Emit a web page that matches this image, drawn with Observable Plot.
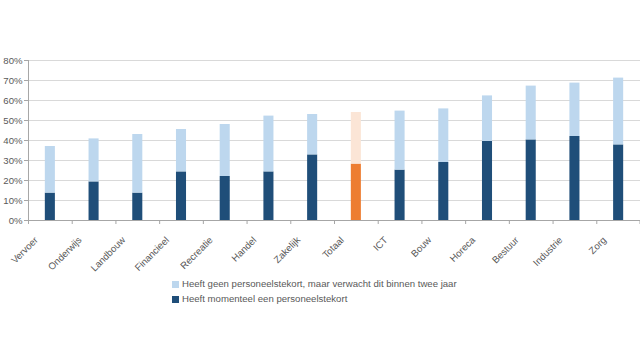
<!DOCTYPE html>
<html>
<head>
<meta charset="utf-8">
<script src="https://cdn.jsdelivr.net/npm/d3@7"></script>
<script src="https://cdn.jsdelivr.net/npm/@observablehq/plot@0.6"></script>
<style>
  body { margin: 0; background: #fff; font-family: "Liberation Sans", Arial, sans-serif; }
  #wrap { position: relative; width: 640px; height: 360px; }
  #chart { position: absolute; left: 0; top: 0; }
  #legend { position: absolute; left: 172px; top: 276px; font-size: 9.6px; color: #595959; line-height: 15px; }
  #legend .sw { display: inline-block; width: 7px; height: 7px; margin-right: 3px; vertical-align: -0.5px; }
</style>
</head>
<body>
<div id="wrap">
  <div id="chart"></div>
  <div id="legend"></div>
</div>
<script>
const categories = ["Vervoer","Onderwijs","Landbouw","Financieel","Recreatie","Handel","Zakelijk","Totaal","ICT","Bouw","Horeca","Bestuur","Industrie","Zorg"];
const momenteel = [13.7, 19.3, 13.7, 24.3, 22.0, 24.3, 32.8, 28.2, 25.2, 29.0, 39.5, 40.3, 42.0, 37.8];
const verwacht  = [23.3, 21.5, 29.3, 21.2, 26.0, 27.9, 20.2, 25.8, 29.5, 26.8, 22.8, 26.9, 26.7, 33.4];
const seriesNames = ["Heeft momenteel een personeelstekort", "Heeft geen personeelstekort, maar verwacht dit binnen twee jaar"];
const yTicks = [0, 10, 20, 30, 40, 50, 60, 70, 80];
const colors = {dark: "#1f4e79", light: "#bdd7ee", orange: "#ed7d31", lightOrange: "#fbe5d6"};
const highlight = "Totaal";

const rows = [];
categories.forEach((c, i) => rows.push({cat: c, series: seriesNames[0], value: momenteel[i],
  color: c === highlight ? colors.orange : colors.dark}));
categories.forEach((c, i) => rows.push({cat: c, series: seriesNames[1], value: verwacht[i],
  color: c === highlight ? colors.lightOrange : colors.light}));

const W = 640, mL = 28, mR = 0;
const step = (W - mL - mR) / categories.length;

const chart = Plot.plot({
  width: W,
  height: 290,
  marginLeft: mL,
  marginRight: mR,
  marginTop: 60,
  marginBottom: 70,
  style: {fontFamily: "'Liberation Sans', Arial, sans-serif", fontSize: "9.6px", color: "#595959", overflow: "visible"},
  x: {domain: categories, paddingInner: 0.77, paddingOuter: 0.385, round: false, label: null},
  y: {domain: [0, 80], label: null},
  color: {type: "identity"},
  marks: [
    Plot.gridY(yTicks, {stroke: "#d9d9d9", strokeOpacity: 1}),
    Plot.barY(rows, {x: "cat", y: "value", fill: "color"}),
    Plot.ruleY([0], {stroke: "#a6a6a6"}),
    Plot.ruleX([categories[0]], {x: d => d, dx: -step / 2, y1: 0, y2: 80, stroke: "#a6a6a6"}),
    Plot.ruleX(categories, {x: d => d, dx: -step / 2, y1: 0, y2: -2, stroke: "#a6a6a6"}),
    Plot.ruleX([categories[categories.length - 1]], {x: d => d, dx: step / 2 - 0.5, y1: 0, y2: -2, stroke: "#a6a6a6"}),
    Plot.axisY(yTicks, {tickFormat: d => d + "%", tickSize: 4, tickPadding: 2, stroke: "#a6a6a6", fill: "#595959", label: null}),
    Plot.axisX({tickSize: 0, tickPadding: 0, tickRotate: -45, dx: -14, dy: 18, fill: "#595959", label: null})
  ]
});
document.getElementById("chart").appendChild(chart);

const legend = document.getElementById("legend");
[[seriesNames[1], colors.light], [seriesNames[0], colors.dark]].forEach(([name, c]) => {
  const row = document.createElement("div");
  const sw = document.createElement("span");
  sw.className = "sw"; sw.style.background = c;
  row.appendChild(sw);
  row.appendChild(document.createTextNode(name));
  legend.appendChild(row);
});
</script>
</body>
</html>
